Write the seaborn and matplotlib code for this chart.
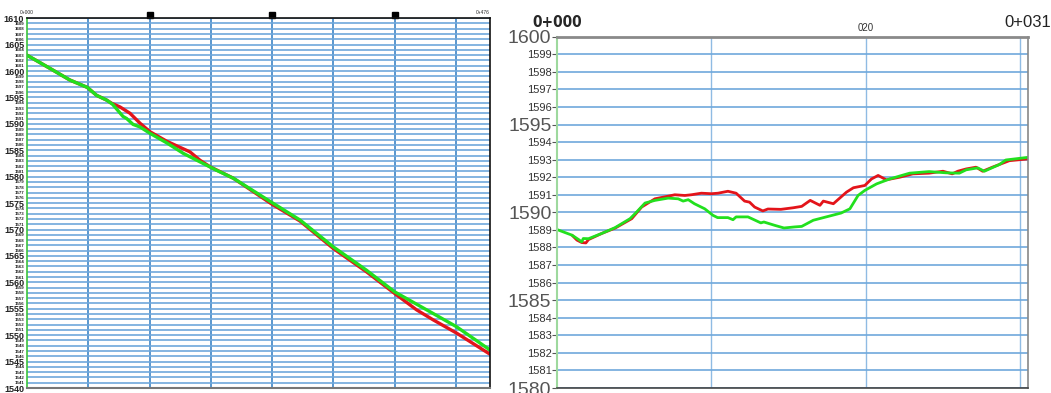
import numpy as np
import pandas as pd
import matplotlib
matplotlib.use("Agg")
import matplotlib.pyplot as plt
import matplotlib.transforms as mtransforms
import seaborn as sns

# left: long profile, chainage (m) vs elevation (m)
long_green_ch = [0, 23.6, 44, 62, 71.5, 81.8, 88, 98.7, 102.5, 109, 116.3, 126.5, 143.7, 160.8, 177.9,
                 195, 212.2, 251, 280.7, 315, 349, 378, 417.6, 441.6, 476]
long_green_z = [1603.0, 1600.5, 1598.3, 1596.9, 1595.4, 1594.5, 1593.7, 1591.4, 1591.0, 1589.9, 1589.4,
                1588.2, 1586.4, 1584.4, 1582.8, 1581.2, 1579.7, 1575.2, 1571.8, 1566.7, 1562.3, 1558.2,
                1554.1, 1551.6, 1547.2]
long_red_ch = [0, 23.6, 44, 62, 71.5, 81.8, 87, 95.6, 105.9, 116.3, 126.5, 143.7, 167.5, 177.9, 188,
               212.2, 251, 280.7, 315, 349, 378, 400.5, 417.6, 441.6, 476]
long_red_z = [1603.0, 1600.5, 1598.3, 1596.9, 1595.4, 1594.5, 1593.9, 1593.2, 1592.0, 1590.1, 1588.5,
              1586.7, 1584.7, 1583.1, 1581.9, 1579.7, 1574.9, 1571.6, 1566.4, 1562.0, 1557.9, 1554.8,
              1552.9, 1550.4, 1546.4]
long_grid_ch = [63, 126, 189, 252, 315, 378, 441]
long_marker_ch = [126, 252, 378]

# right: cross section, offset (m) vs elevation (m)
cross_green_x = [0, 0.97, 1.4, 1.6, 1.7, 2.04, 2.9, 3.76, 4.73, 5.16, 5.7, 6.34, 7.2, 7.85, 8.17, 8.5, 8.9,
                 9.57, 10.1, 10.4, 11.07, 11.4, 11.6, 12.37, 13.2, 13.4, 14.1, 14.7, 15.4, 15.85, 16.6,
                 17.7, 18.4, 18.97, 19.5, 19.94, 20.7, 21.55, 22.84, 24.1, 25.2, 26.06, 26.5, 27.25,
                 27.68, 28.65, 29.07, 30.5]
cross_green_z = [1589.02, 1588.70, 1588.45, 1588.32, 1588.51, 1588.5, 1588.8, 1589.13, 1589.64, 1590.02,
                 1590.53, 1590.68, 1590.81, 1590.77, 1590.64, 1590.72, 1590.49, 1590.2, 1589.83, 1589.7,
                 1589.7, 1589.58, 1589.74, 1589.74, 1589.4, 1589.45, 1589.26, 1589.11, 1589.17, 1589.2,
                 1589.55, 1589.8, 1589.96, 1590.2, 1590.96, 1591.25, 1591.62, 1591.9, 1592.23, 1592.32,
                 1592.25, 1592.23, 1592.42, 1592.53, 1592.34, 1592.72, 1592.98, 1593.13]
cross_red_x = [0.97, 1.29, 1.6, 1.87, 2.04, 2.9, 3.76, 4.84, 5.48, 6.34, 7.2, 7.63, 8.28, 8.7, 9.35, 10.0,
               10.43, 11.07, 11.6, 12.15, 12.47, 12.8, 13.33, 13.66, 14.5, 15.3, 15.85, 16.4, 17.03,
               17.25, 17.9, 18.75, 19.2, 19.94, 20.37, 20.8, 21.33, 22.2, 23.05, 24.1, 25.0, 25.6, 25.96,
               26.5, 27.14, 27.57, 28.2, 29.3, 30.5]
cross_red_z = [1588.70, 1588.42, 1588.28, 1588.26, 1588.45, 1588.8, 1589.1, 1589.64, 1590.3, 1590.77,
               1590.92, 1591.0, 1590.96, 1591.0, 1591.09, 1591.06, 1591.09, 1591.2, 1591.09, 1590.64,
               1590.58, 1590.3, 1590.08, 1590.19, 1590.17, 1590.26, 1590.34, 1590.68, 1590.4, 1590.64,
               1590.49, 1591.15, 1591.4, 1591.53, 1591.9, 1592.1, 1591.85, 1592.0, 1592.19, 1592.23,
               1592.34, 1592.19, 1592.34, 1592.47, 1592.57, 1592.34, 1592.57, 1592.94, 1593.04]
cross_grid_x = [10, 20, 30]

sns.set_style("white")
plt.rcParams['font.family'] = ['Liberation Sans', 'DejaVu Sans']

GREEN = '#22e01e'
RED = '#e3141a'

fig = plt.figure(figsize=(10.51, 3.93), dpi=100)

# ---------- left panel ----------
ax1 = fig.add_axes([0.0257, 0.0127, 0.4405, 0.941])
sns.lineplot(x=long_red_ch, y=long_red_z, ax=ax1, color=RED, lw=2.4, estimator=None, sort=False)
sns.lineplot(x=long_green_ch, y=long_green_z, ax=ax1, color=GREEN, lw=2.4, estimator=None, sort=False)
ax1.set_xlim(0, 476)
ax1.set_ylim(1540, 1610)
yt = list(range(1540, 1611))
ax1.set_yticks(yt)
ax1.set_yticklabels([str(v) for v in yt])
for lab, v in zip(ax1.get_yticklabels(), yt):
    lab.set_fontweight('bold')
    lab.set_fontsize(6.5 if v % 5 == 0 else 3.2)
ax1.set_xticks(long_grid_ch)
ax1.set_xticklabels([])
ax1.tick_params(axis='y', length=1.5, pad=0.5, colors='#222222')
ax1.tick_params(axis='x', length=3, colors='#555555', direction='out')
ax1.grid(axis='y', color='#6fa8dc', lw=1.2)
ax1.grid(axis='x', color='#3d85c6', lw=1.2)
ax1.set_axisbelow(True)
for s in ['top', 'right']:
    ax1.spines[s].set_color('#111111')
    ax1.spines[s].set_linewidth(1.2)
ax1.spines['bottom'].set_color('#777777')
ax1.spines['bottom'].set_linewidth(1.5)
ax1.spines['left'].set_color('#3cc43c')
ax1.spines['left'].set_linewidth(1.2)
trans1 = mtransforms.blended_transform_factory(ax1.transData, ax1.transAxes)
ax1.plot(long_marker_ch, [1.008] * len(long_marker_ch), 's', color='black', ms=4.5,
         transform=trans1, clip_on=False)
ax1.text(0, 1.008, '0+000', transform=trans1, fontsize=3.5, ha='center', va='bottom')
ax1.text(476, 1.008, '0+476', transform=trans1, fontsize=3.5, ha='right', va='bottom')
ax1.set_xlabel('')
ax1.set_ylabel('')

# ---------- right panel ----------
ax2 = fig.add_axes([0.530, 0.0127, 0.448, 0.894])
sns.lineplot(x=cross_red_x, y=cross_red_z, ax=ax2, color=RED, lw=2.0, estimator=None, sort=False)
sns.lineplot(x=cross_green_x, y=cross_green_z, ax=ax2, color=GREEN, lw=2.0, estimator=None, sort=False)
ax2.set_xlim(0, 30.5)
ax2.set_ylim(1580, 1600)
yt2 = list(range(1580, 1601))
ax2.set_yticks(yt2)
ax2.set_yticklabels([str(v) for v in yt2])
for lab, v in zip(ax2.get_yticklabels(), yt2):
    if v % 5 == 0:
        lab.set_fontsize(14)
        lab.set_color('#555555')
    else:
        lab.set_fontsize(8)
        lab.set_color('#333333')
ax2.set_xticks(cross_grid_x)
ax2.set_xticklabels([])
ax2.tick_params(axis='y', length=3.5, width=0.8, pad=0.5, color='#555555', direction='out', left=True)
ax2.tick_params(axis='x', length=0)
ax2.grid(axis='y', color='#6fa8dc', lw=1.2)
ax2.grid(axis='x', color='#8fbbe3', lw=1.0)
ax2.set_axisbelow(True)
ax2.spines['top'].set_color('#8a8a8a')
ax2.spines['top'].set_linewidth(2)
ax2.spines['bottom'].set_color('#444444')
ax2.spines['bottom'].set_linewidth(1.2)
ax2.spines['right'].set_color('#888888')
ax2.spines['right'].set_linewidth(1.2)
ax2.spines['left'].set_color('#9ed99e')
ax2.spines['left'].set_linewidth(1.5)
trans2 = mtransforms.blended_transform_factory(ax2.transData, ax2.transAxes)
ax2.text(0, 1.02, '0+000', transform=trans2, fontsize=11, fontweight='bold', ha='center', va='bottom',
         family=['DejaVu Sans'], stretch='condensed')
ax2.text(20, 1.01, '020', transform=trans2, fontsize=7, ha='center', va='bottom', color='#333333')
ax2.text(30.5, 1.02, '0+031', transform=trans2, fontsize=12, ha='center', va='bottom', color='#222222')
ax2.set_xlabel('')
ax2.set_ylabel('')

fig.savefig('out.png', dpi=100)
